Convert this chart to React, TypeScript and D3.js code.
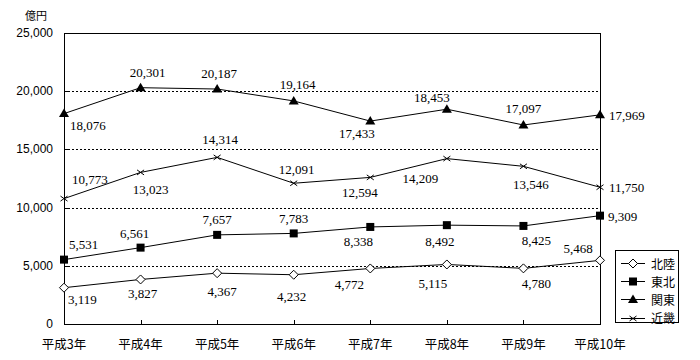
import React from 'react';
import * as d3 from 'd3';

const YEARS = ['平成3年', '平成4年', '平成5年', '平成6年', '平成7年', '平成8年', '平成9年', '平成10年'];
const SERIES_NAMES = ['北陸', '東北', '関東', '近畿'];
const HOKURIKU = [3119, 3827, 4367, 4232, 4772, 5115, 4780, 5468];
const TOHOKU = [5531, 6561, 7657, 7783, 8338, 8492, 8425, 9309];
const KANTO = [18076, 20301, 20187, 19164, 17433, 18453, 17097, 17969];
const KINKI = [10773, 13023, 14314, 12091, 12594, 14209, 13546, 11750];
const Y_TICKS = [0, 5000, 10000, 15000, 20000, 25000];
const Y_MAX = 25000;
const UNIT = '億円';

// label placement offsets [dx, dy, anchor]
type Off = [number, number, string];
const OFF_HOKURIKU: Off[] = [[4, 12, 'start'], [2, 14, 'middle'], [5, 18, 'middle'], [-2, 22, 'middle'], [-21, 16.5, 'middle'], [-14, 19, 'middle'], [13, 15, 'middle'], [-22, -12, 'middle']];
const OFF_TOHOKU: Off[] = [[5, -15, 'start'], [-6, -14, 'middle'], [0, -15.5, 'middle'], [0, -15, 'middle'], [-12, 15, 'middle'], [-7, 16.5, 'middle'], [13, 15, 'middle'], [8, 0.5, 'start']];
const OFF_KANTO: Off[] = [[6, 11.5, 'start'], [7, -15, 'middle'], [2, -16, 'middle'], [4, -16.5, 'middle'], [-13.5, 12, 'middle'], [-15, -12, 'middle'], [0, -16.5, 'middle'], [9, 1, 'start']];
const OFF_KINKI: Off[] = [[8, -19.5, 'start'], [10, 17, 'middle'], [3, -18, 'middle'], [3, -14, 'middle'], [-10.5, 15.5, 'middle'], [-26.5, 20, 'middle'], [7.5, 18, 'middle'], [9, 0, 'start']];

const W = 700, H = 360;
const L = 64, R = 600, T = 33, B = 324;

const fmt = d3.format(',');

function Marker({ kind, x, y }: { kind: number; x: number; y: number }) {
  if (kind === 0) {
    const s = 4.5;
    return <path d={`M${x},${y - s}L${x + s},${y}L${x},${y + s}L${x - s},${y}Z`} fill="#fff" stroke="#000" strokeWidth={1} />;
  }
  if (kind === 1) {
    return <rect x={x - 4} y={y - 4} width={8} height={8} fill="#000" />;
  }
  if (kind === 2) {
    return <path d={`M${x},${y - 5}L${x + 5},${y + 3.5}L${x - 5},${y + 3.5}Z`} fill="#000" />;
  }
  const s = 3.5;
  return (
    <g stroke="#000" strokeWidth={1}>
      <line x1={x - s} y1={y - s + 1} x2={x + s} y2={y + s - 1} />
      <line x1={x - s} y1={y + s - 1} x2={x + s} y2={y - s + 1} />
    </g>
  );
}

export default function App() {
  const x = d3.scalePoint<string>().domain(YEARS).range([L, R]);
  const y = d3.scaleLinear().domain([0, Y_MAX]).range([B, T]);
  const series = [HOKURIKU, TOHOKU, KANTO, KINKI];
  const offs = [OFF_HOKURIKU, OFF_TOHOKU, OFF_KANTO, OFF_KINKI];
  const line = d3.line<number>().x((_, i) => x(YEARS[i]) as number).y((d) => y(d));

  const labelFont = '"Liberation Serif", "DejaVu Serif", serif';
  const sansFont = '"Liberation Sans", Arial, sans-serif';
  const cjkFont = '"Noto Sans CJK JP", sans-serif';

  const legX = 615, legY = 250, legW = 63, legH = 72;
  const legRow = (i: number) => 263 + i * 18.2;

  return (
    <svg width={W} height={H} style={{ position: 'absolute', left: 0, top: 0, background: '#fff' }}>
      <rect x={0} y={0} width={W} height={H} fill="#fff" />
      {/* grid */}
      {Y_TICKS.filter((t) => t > 0 && t < Y_MAX).map((t) => (
        <line key={t} x1={L} x2={R} y1={Math.round(y(t)) + 0.5} y2={Math.round(y(t)) + 0.5} stroke="#000" strokeWidth={1} strokeDasharray="2,2" />
      ))}
      {/* frame */}
      <rect x={L + 0.5} y={T + 0.5} width={R - L} height={B - T} fill="none" stroke="#000" strokeWidth={1} />
      {/* y ticks */}
      {Y_TICKS.map((t) => (
        <g key={t}>
          <line x1={L} x2={L + 4} y1={Math.round(y(t)) + 0.5} y2={Math.round(y(t)) + 0.5} stroke="#000" />
          <text x={53} y={y(t)} textAnchor="end" dominantBaseline="central" fontFamily={sansFont} fontSize={12} fill="#000">
            {fmt(t)}
          </text>
        </g>
      ))}
      <text x={25} y={15} dominantBaseline="central" fontFamily={cjkFont} fontSize={11} fill="#000">{UNIT}</text>
      {/* x ticks */}
      {YEARS.map((c) => (
        <g key={c}>
          <line x1={Math.round(x(c) as number) + 0.5} x2={Math.round(x(c) as number) + 0.5} y1={B - 4} y2={B} stroke="#000" />
          <text x={x(c) as number} y={343} textAnchor="middle" dominantBaseline="central" fontFamily={cjkFont} fontSize={12.5} fill="#000">
            {c}
          </text>
        </g>
      ))}
      {/* lines */}
      {series.map((s, si) => (
        <path key={si} d={line(s) || ''} fill="none" stroke="#000" strokeWidth={1} />
      ))}
      {series.map((s, si) =>
        s.map((v, i) => <Marker key={`${si}-${i}`} kind={si} x={x(YEARS[i]) as number} y={y(v)} />)
      )}
      {series.map((s, si) =>
        s.map((v, i) => {
          const [dx, dy, anchor] = offs[si][i];
          return (
            <text key={`l${si}-${i}`} x={(x(YEARS[i]) as number) + dx} y={y(v) + dy} textAnchor={anchor as any} dominantBaseline="central" fontFamily={labelFont} fontSize={13} fill="#000">
              {fmt(v)}
            </text>
          );
        })
      )}
      {/* legend */}
      <rect x={legX + 0.5} y={legY + 0.5} width={legW} height={legH} fill="#fff" stroke="#000" />
      {SERIES_NAMES.map((n, i) => (
        <g key={n}>
          <line x1={621} x2={645} y1={Math.round(legRow(i)) + 0.5} y2={Math.round(legRow(i)) + 0.5} stroke="#000" />
          <Marker kind={i} x={633} y={Math.round(legRow(i)) + 0.5} />
          <text x={651} y={legRow(i)} dominantBaseline="central" fontFamily={cjkFont} fontSize={12} fill="#000">
            {n}
          </text>
        </g>
      ))}
    </svg>
  );
}
